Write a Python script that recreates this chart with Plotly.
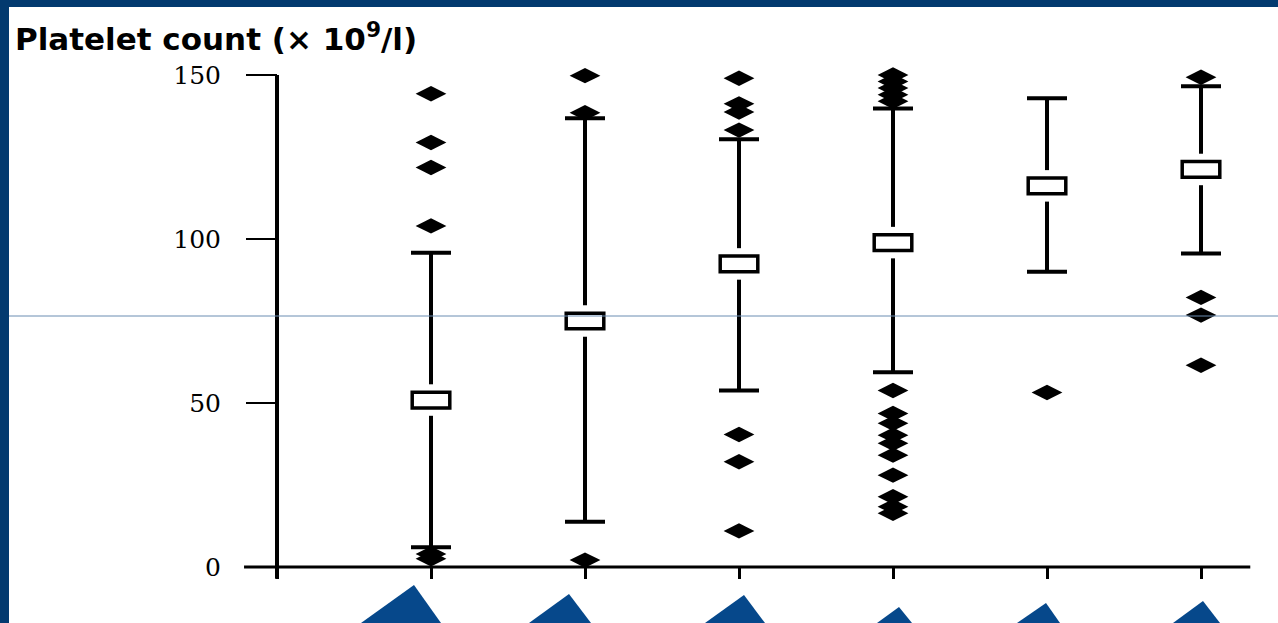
import plotly.graph_objects as go

# ---------------- data ----------------
categories = [1, 2, 3, 4, 5, 6]
medians = [50.9, 75.0, 92.4, 98.9, 116.2, 121.2]
whisker_low = [6.0, 13.8, 53.8, 59.4, 90.0, 95.6]
whisker_high = [95.8, 136.8, 130.4, 139.8, 142.9, 146.6]
outliers_1 = [144.3, 129.4, 121.8, 104.0, 4.0, 2.5]
outliers_2 = [149.8, 138.5, 2.1]
outliers_3 = [149.0, 141.2, 138.7, 133.2, 40.4, 32.1, 11.0]
outliers_4 = [150.0, 148.0, 146.0, 144.0, 142.0, 53.8, 46.8, 43.8, 40.2, 37.7,
              34.1, 28.0, 21.4, 18.4, 16.4]
outliers_5 = [53.2]
outliers_6 = [149.3, 82.2, 76.8, 61.5]
y_tick_values = [0, 50, 100, 150]
y_tick_labels = ["0", "50", "100", "150"]
title_text = "Platelet count (× 10<sup>9</sup>/l)"

outliers = [outliers_1, outliers_2, outliers_3, outliers_4, outliers_5, outliers_6]

# ---------------- layout geometry ----------------
W, H = 1278, 623
BORDER = "#033a6f"
TRI_BLUE = "#06488b"
X0_PX, X_UNIT = 277.0, 154.0
Y0_PX, Y_UNIT = 567.0, 3.28
x_range = [(0 - X0_PX) / X_UNIT, (W - X0_PX) / X_UNIT]
y_range = [(Y0_PX - H) / Y_UNIT, Y0_PX / Y_UNIT]

fig = go.Figure()

# whiskers with caps
fig.add_trace(go.Scatter(
    x=categories, y=medians, mode="markers",
    marker=dict(size=1, color="rgba(0,0,0,0)"),
    error_y=dict(type="data", symmetric=False,
                 array=[h - m for h, m in zip(whisker_high, medians)],
                 arrayminus=[m - l for m, l in zip(medians, whisker_low)],
                 color="black", thickness=4, width=20),
    hoverinfo="skip", showlegend=False, cliponaxis=False,
))

# outliers
ox, oy = [], []
for c, vals in zip(categories, outliers):
    for v in vals:
        ox.append(c)
        oy.append(v)
fig.add_trace(go.Scatter(
    x=ox, y=oy, mode="markers",
    marker=dict(symbol="diamond-wide", size=22, color="black"),
    showlegend=False, cliponaxis=False,
))

shapes = []
# white card on dark-blue frame
shapes.append(dict(type="rect", xref="paper", yref="paper",
                   x0=9 / W, x1=1.0, y0=0, y1=(H - 7) / H,
                   fillcolor="white", line=dict(width=0), layer="below"))
# axis lines
shapes.append(dict(type="line", xref="x", yref="y", x0=0, x1=0, y0=-3.6, y1=150,
                   line=dict(color="black", width=4), layer="above"))
shapes.append(dict(type="line", xref="x", yref="y", x0=-0.214, x1=6.32, y0=0, y1=0,
                   line=dict(color="black", width=3), layer="above"))
# median boxes with white gap
for c, m in zip(categories, medians):
    shapes.append(dict(type="rect", xref="x", yref="y",
                       x0=c - 0.05, x1=c + 0.05, y0=m - 4.8, y1=m + 4.8,
                       fillcolor="white", line=dict(width=0), layer="above"))
    shapes.append(dict(type="rect", xref="x", yref="y",
                       x0=c - 0.122, x1=c + 0.122, y0=m - 2.4, y1=m + 2.4,
                       fillcolor="white", line=dict(color="black", width=3.5),
                       layer="above"))
# thin slide line
shapes.append(dict(type="line", xref="paper", yref="paper",
                   x0=9 / W, x1=1.0, y0=(H - 316) / H, y1=(H - 316) / H,
                   line=dict(color="#6b8db2", width=1), layer="above"))
# blue pointer triangles (apex x, apex y, base-left x, base-right x) in px
triangles = [(414, 585, 361, 441), (569, 594, 529, 591), (744, 595, 705, 765),
             (899, 607, 877, 912), (1046, 603, 1017, 1060), (1203, 601, 1173, 1220)]
for ax_, ay_, lx, rx in triangles:
    path = "M {:.5f},{:.5f} L {:.5f},0 L {:.5f},0 Z".format(
        ax_ / W, (H - ay_) / H, lx / W, rx / W)
    shapes.append(dict(type="path", xref="paper", yref="paper", path=path,
                       fillcolor=TRI_BLUE, line=dict(width=0), layer="above"))

fig.update_layout(
    width=W, height=H,
    margin=dict(l=0, r=0, t=0, b=0),
    paper_bgcolor=BORDER, plot_bgcolor=BORDER,
    showlegend=False,
    shapes=shapes,
    xaxis=dict(range=x_range, domain=[0, 1], anchor="free",
               position=(H - Y0_PX) / H,
               showgrid=False, zeroline=False, showline=False,
               tickmode="array", tickvals=[0] + categories,
               ticks="outside", ticklen=11, tickwidth=3, tickcolor="black",
               showticklabels=False, fixedrange=True),
    yaxis=dict(range=y_range, domain=[0, 1], anchor="free",
               position=X0_PX / W,
               showgrid=False, zeroline=False, showline=False,
               tickmode="array", tickvals=y_tick_values, ticktext=y_tick_labels,
               ticks="outside", ticklen=31, tickwidth=2, tickcolor="black",
               ticklabelstandoff=20,
               tickfont=dict(family="DejaVu Serif", size=25, color="black"),
               fixedrange=True),
    annotations=[dict(text=title_text, xref="paper", yref="paper",
                      x=13 / W, y=(H - 37) / H, xanchor="left", yanchor="middle",
                      showarrow=False,
                      font=dict(family="DejaVu Sans", size=31, color="black",
                                weight="bold"))],
)

page_fix = ("document.body.style.margin='0px';"
            "document.body.style.padding='0px';"
            "document.body.style.overflow='hidden';"
            "document.body.style.background='" + BORDER + "';")

fig.write_html("out.html", config={"displayModeBar": False}, post_script=page_fix)
